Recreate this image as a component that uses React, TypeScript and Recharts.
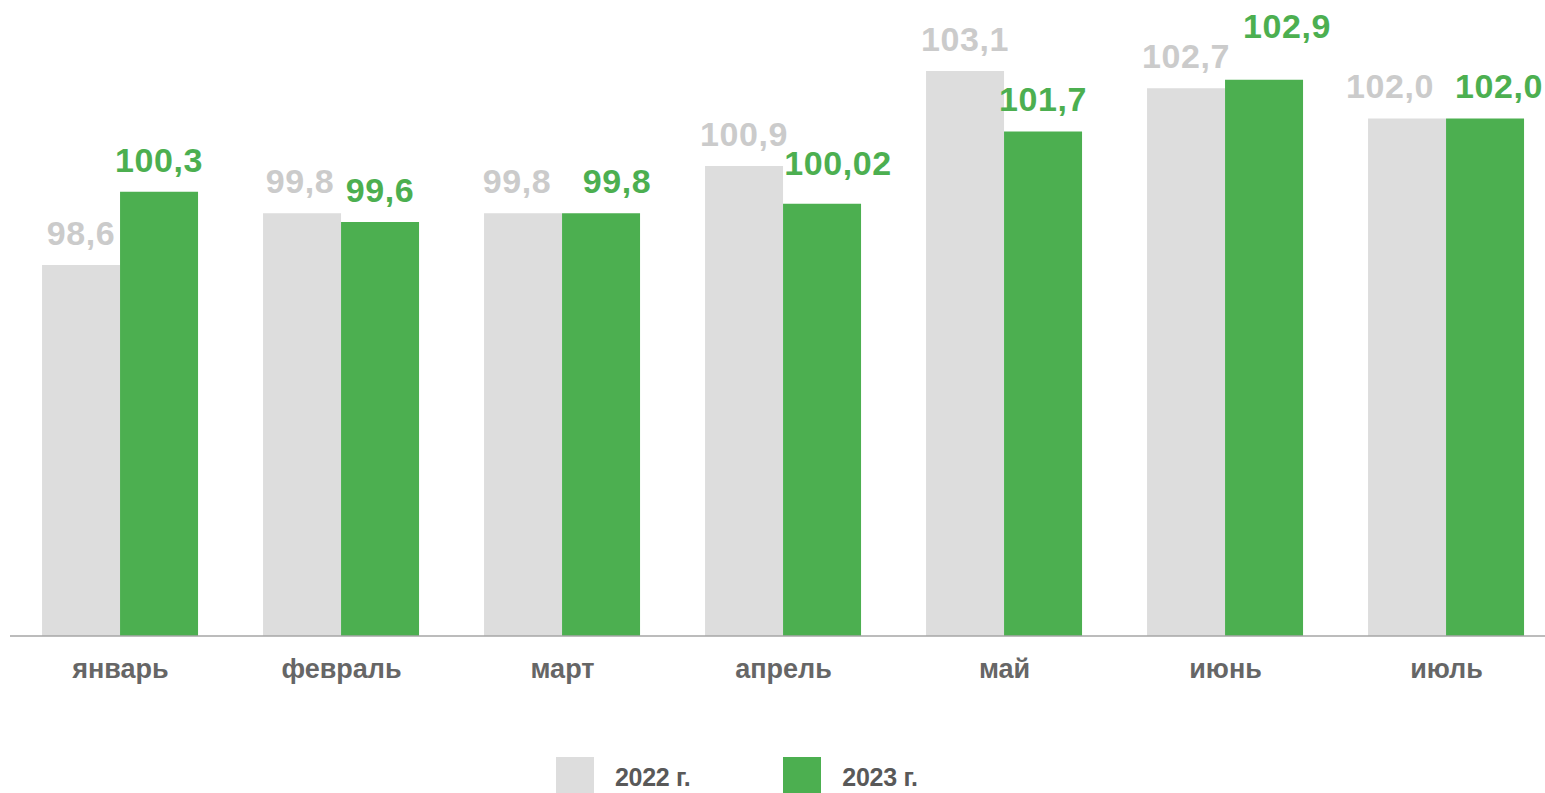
import { BarChart, Bar, XAxis, YAxis, Legend, LabelList } from 'recharts';

const months = ['январь', 'февраль', 'март', 'апрель', 'май', 'июнь', 'июль'];
const values2022 = [98.6, 99.8, 99.8, 100.9, 103.1, 102.7, 102.0];
const values2023 = [100.3, 99.6, 99.8, 100.02, 101.7, 102.9, 102.0];
const seriesNames = ['2022 г.', '2023 г.'];

const GREY = '#dddddd';
const GREY_LABEL = '#cbcbcb';
const GREEN = '#4caf50';
const TEXT = '#666666';
const FONT = '"Liberation Sans", Arial, sans-serif';

// hand nudges of the value labels, so neighbours don't collide (as in the source deck)
const nudge2022 = [
  [0, 0], [-2, 0], [-6, 0], [0, 0], [0, 0], [0, 0], [-17, 0],
];
const nudge2023 = [
  [0, 0], [0, 0], [16, 0], [16, -9], [0, 0], [23, -22], [14, 0],
];

const data = months.map((m, i) => ({ month: m, y2022: values2022[i], y2023: values2023[i] }));

const fmt = (v: number) => {
  const tenths = v * 10;
  const oneDecimal = Math.abs(tenths - Math.round(tenths)) < 1e-6;
  return (oneDecimal ? v.toFixed(1) : v.toFixed(2)).replace('.', ',');
};

const makeLabel = (color: string, nudges: number[][]) =>
  (props: any) => {
    const { x, y, width, value, index } = props;
    const [dx, dy] = nudges[index] ?? [0, 0];
    return (
      <text
        x={Number(x) + Number(width) / 2 + dx}
        y={Number(y) - 20 + dy}
        textAnchor="middle"
        fill={color}
        fontSize={34}
        fontWeight="bold"
        fontFamily={FONT}
        letterSpacing={0.6}
      >
        {fmt(Number(value))}
      </text>
    );
  };

const MonthTick = ({ x, y, payload }: { x?: number; y?: number; payload?: { value: string } }) => (
  <text
    x={x}
    y={(y ?? 0) + 42}
    textAnchor="middle"
    fill={TEXT}
    fontSize={27}
    fontWeight="bold"
    fontFamily={FONT}
  >
    {payload?.value}
  </text>
);

const LegendContent = ({ payload }: { payload?: Array<{ value: string; color: string }> }) => (
  <div style={{ display: 'flex', alignItems: 'flex-start', fontFamily: FONT }}>
    {(payload ?? []).map((item, i) => (
      <div key={item.value} style={{ display: 'flex', alignItems: 'center', marginRight: i === 0 ? 93 : 0 }}>
        <div style={{ width: 38, height: 40, background: item.color }} />
        <span
          style={{
            marginLeft: 21,
            fontSize: 25,
            fontWeight: 'bold',
            color: '#595959',
            letterSpacing: -0.3,
          }}
        >
          {item.value}
        </span>
      </div>
    ))}
  </div>
);

export default function App() {
  return (
    <div style={{ position: 'absolute', left: 0, top: 0, width: 1545, height: 793, overflow: 'hidden', background: '#fff' }}>
      <BarChart
        width={1560}
        height={793}
        data={data}
        margin={{ top: 2, right: 3, left: 10, bottom: 57 }}
        barCategoryGap="14.5%"
        barGap={0}
      >
        <XAxis
          dataKey="month"
          axisLine={{ stroke: '#a6a6a6', strokeWidth: 1.5 }}
          tickLine={false}
          tickSize={0}
          tickMargin={0}
          height={60}
          interval={0}
          tick={<MonthTick />}
        />
        <YAxis hide domain={[90, 104.7]} allowDataOverflow />
        <Legend
          verticalAlign="bottom"
          content={<LegendContent />}
          wrapperStyle={{ position: 'absolute', left: 556, top: 757, width: 'auto', bottom: 'auto' }}
        />
        <Bar dataKey="y2022" name={seriesNames[0]} fill={GREY} isAnimationActive={false}>
          <LabelList dataKey="y2022" content={makeLabel(GREY_LABEL, nudge2022)} />
        </Bar>
        <Bar dataKey="y2023" name={seriesNames[1]} fill={GREEN} isAnimationActive={false}>
          <LabelList dataKey="y2023" content={makeLabel(GREEN, nudge2023)} />
        </Bar>
      </BarChart>
    </div>
  );
}
